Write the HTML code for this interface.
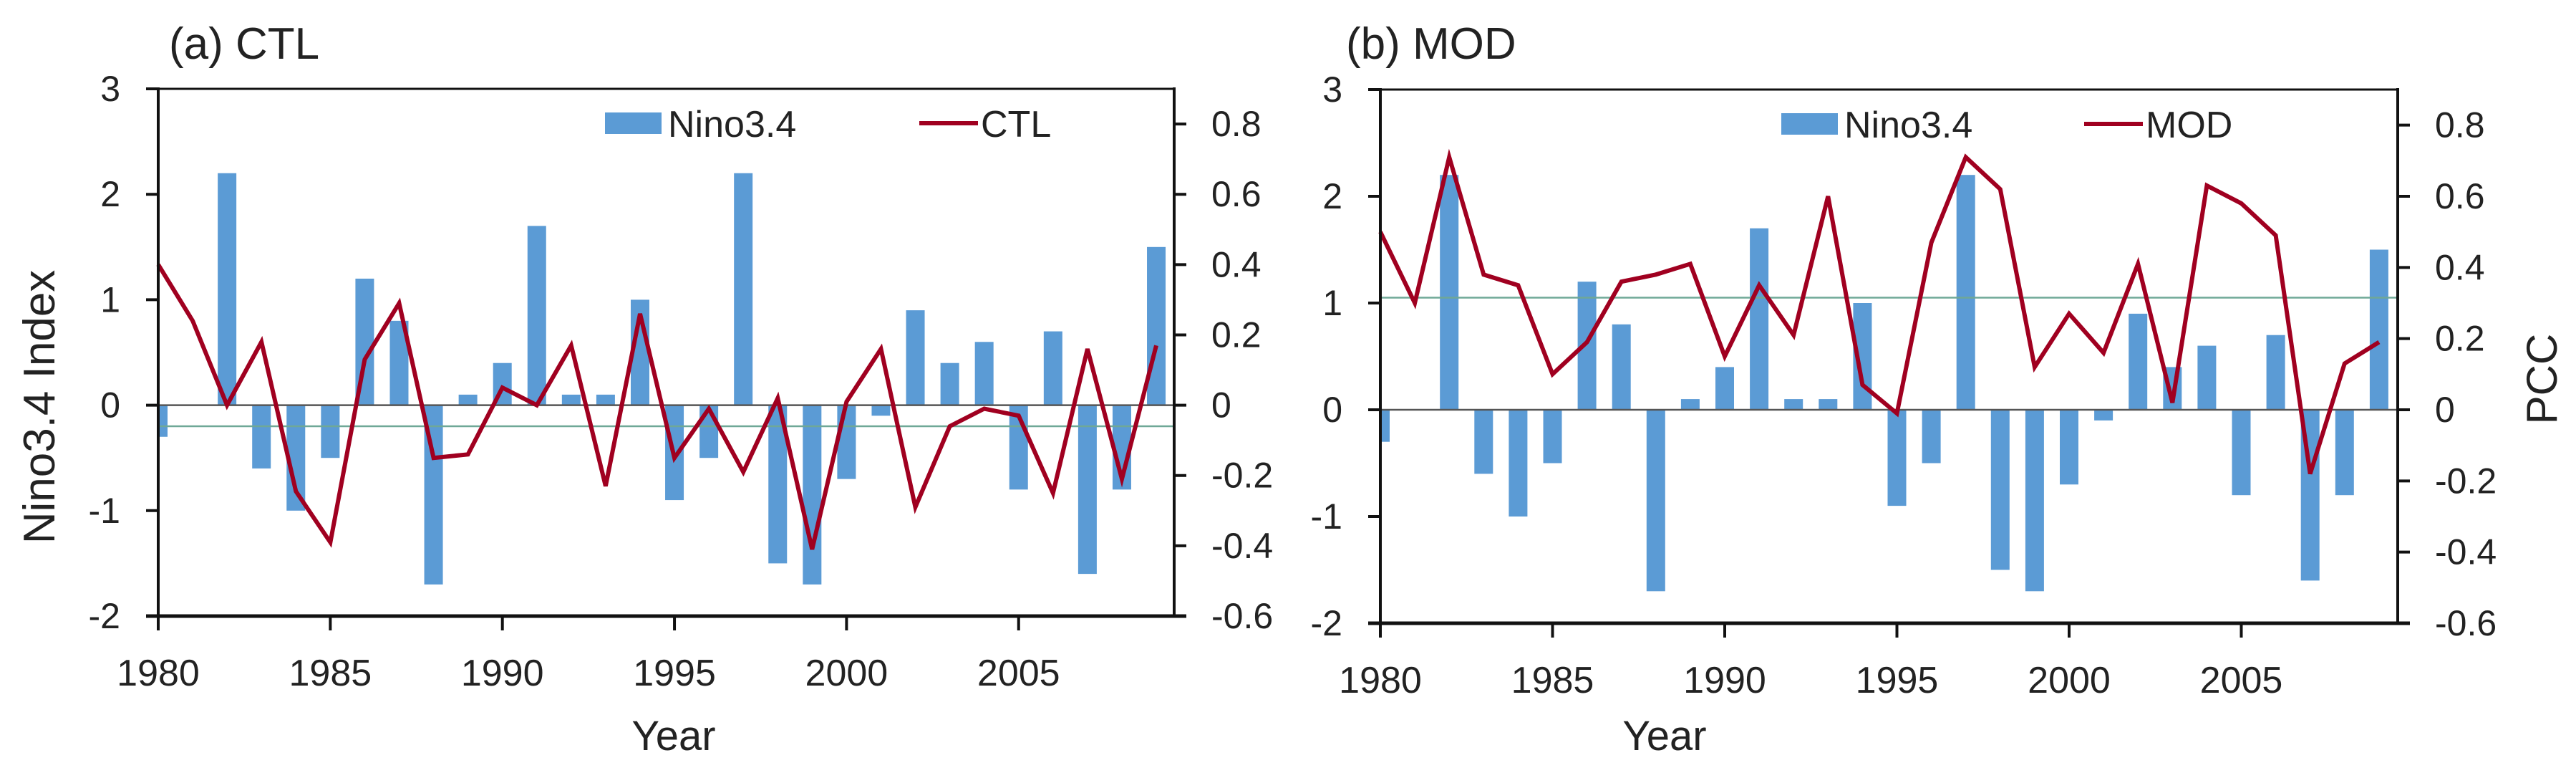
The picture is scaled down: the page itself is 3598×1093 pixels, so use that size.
<!DOCTYPE html>
<html><head><meta charset="utf-8">
<style>
html,body{margin:0;padding:0;background:#fff;}
svg{display:block;font-family:"Liberation Sans",sans-serif;}
</style></head>
<body>
<svg id="chart" width="3598" height="1093" viewBox="0 0 3598 1093" xmlns="http://www.w3.org/2000/svg"></svg>
<script>
const years = [1980,1981,1982,1983,1984,1985,1986,1987,1988,1989,1990,1991,1992,1993,1994,1995,1996,1997,1998,1999,2000,2001,2002,2003,2004,2005,2006,2007,2008,2009];
const nino34 = [-0.3,0,2.2,-0.6,-1.0,-0.5,1.2,0.8,-1.7,0.1,0.4,1.7,0.1,0.1,1.0,-0.9,-0.5,2.2,-1.5,-1.7,-0.7,-0.1,0.9,0.4,0.6,-0.8,0.7,-1.6,-0.8,1.5];
const ctlPcc = [0.40,0.24,0.0,0.18,-0.245,-0.39,0.13,0.29,-0.15,-0.14,0.05,0.0,0.17,-0.23,0.26,-0.15,-0.01,-0.19,0.02,-0.41,0.01,0.16,-0.29,-0.06,-0.01,-0.03,-0.25,0.16,-0.21,0.17];
const modPcc = [0.50,0.30,0.71,0.38,0.35,0.10,0.19,0.36,0.38,0.41,0.15,0.35,0.21,0.60,0.07,-0.01,0.47,0.71,0.62,0.12,0.27,0.16,0.41,0.02,0.63,0.58,0.49,-0.18,0.13,0.19];
const ninoTicks = [3,2,1,0,-1,-2];
const pccTicks = [0.8,0.6,0.4,0.2,0,-0.2,-0.4,-0.6];
const yearTicks = [1980,1985,1990,1995,2000,2005];
const ctlThreshold = -0.06;
const modThreshold = 0.315;

const NS = "http://www.w3.org/2000/svg";
const svg = document.getElementById('chart');
function mk(tag, attrs, parent, text){
  const e = document.createElementNS(NS, tag);
  for (const k in attrs) e.setAttribute(k, attrs[k]);
  if (text !== undefined) e.textContent = text;
  (parent || svg).appendChild(e);
  return e;
}

function panel(cfg){
  const g = mk('g', {});
  
  
  const L = cfg.left, R = cfg.right, T = cfg.top, B = cfg.bottom;
  const step = cfg.step;
  const xs = y => L + (y - years[0]) * step;
  const yN = v => T + (3 - v) / 5 * (B - T);
  const yP = v => T + (0.9 - v) / 1.5 * (B - T);

  const top = mk('line', {x1:L, y1:T, x2:R, y2:T, stroke:'#111', 'stroke-width':3}, g);
  
  

  nino34.forEach((v, i) => {
    const cx = xs(years[i]);
    let x0 = cx - 13, x1 = cx + 13;
    if (x0 < L) x0 = L;
    const y0 = yN(0), y1 = yN(v);
    const r = mk('rect', {x:x0, y:Math.min(y0,y1), width:x1-x0, height:Math.abs(y1-y0), fill:'#5B9BD5'}, g);
    
    
  });

  const z = mk('line', {x1:L, y1:yN(0), x2:R, y2:yN(0), stroke:'#555', 'stroke-width':2.5}, g);
  
  
  const th = mk('line', {x1:L, y1:yP(cfg.threshold), x2:R, y2:yP(cfg.threshold), stroke:'#6fa897', 'stroke-width':2.5}, g);
  
  

  const pts = cfg.series.map((v, i) => xs(years[i]).toFixed(1) + ',' + yP(v).toFixed(1)).join(' ');
  const pl = mk('polyline', {points:pts, fill:'none', stroke:'#A00020', 'stroke-width':6, 'stroke-linejoin':'miter'}, g);
  
  

  const ax = mk('line', {x1:L, y1:T-2, x2:L, y2:B+20, stroke:'#111', 'stroke-width':4}, g);
  
  
  const axr = mk('line', {x1:R, y1:T-2, x2:R, y2:B+2, stroke:'#111', 'stroke-width':4}, g);
  
  
  const axb = mk('line', {x1:L-17, y1:B, x2:R+17, y2:B, stroke:'#111', 'stroke-width':5}, g);
  
  

  ninoTicks.forEach(t => {
    const y = yN(t);
    const tk = mk('line', {x1:L-17, y1:y, x2:L, y2:y, stroke:'#111', 'stroke-width':4}, g);
    
    
    const lb = mk('text', {x:L-53, y:y+17, 'text-anchor':'end', 'font-size':50, fill:'#222'}, g, String(t));
    
    
  });
  pccTicks.forEach(t => {
    const y = yP(t);
    const tk = mk('line', {x1:R, y1:y, x2:R+17, y2:y, stroke:'#111', 'stroke-width':4}, g);
    
    
    const lb = mk('text', {x:R+52, y:y+17, 'font-size':50, fill:'#222'}, g, String(t));
    
    
  });
  yearTicks.forEach(t => {
    const x = xs(t);
    const tk = mk('line', {x1:x, y1:B, x2:x, y2:B+20, stroke:'#111', 'stroke-width':4}, g);
    
    
    const lb = mk('text', {x:x, y:B+97, 'text-anchor':'middle', 'font-size':52, fill:'#222'}, g, String(t));
    
    
  });

  const yt = mk('text', {x:cfg.yearX, y:1047, 'text-anchor':'middle', 'font-size':58, fill:'#222'}, g, 'Year');
  
  

  const tt = mk('text', {x:cfg.titleX, y:82, 'font-size':62, fill:'#222'}, g, cfg.title);
  
  

  const lg = mk('g', {}, g);
  
  
  const lb1 = mk('rect', {x:cfg.legX, y:T+33, width:79, height:30, fill:'#5B9BD5'}, lg);
  
  
  const lt1 = mk('text', {x:cfg.legX+88, y:T+67, 'font-size':52, fill:'#222'}, lg, 'Nino3.4');
  
  
  const ll = mk('line', {x1:cfg.leg2X, y1:T+48, x2:cfg.leg2X+82, y2:T+48, stroke:'#A00020', 'stroke-width':6}, lg);
  
  
  const lt2 = mk('text', {x:cfg.leg2X+86, y:T+67, 'font-size':52, fill:'#222'}, lg, cfg.seriesName);
  
  
}

panel({name:'panel-a-ctl', left:221, right:1640, top:124, bottom:860, step:48.07, series:ctlPcc, seriesName:'CTL', title:'(a) CTL', titleX:236, threshold:ctlThreshold, legX:845, leg2X:1284, yearX:941});
panel({name:'panel-b-mod', left:1928, right:3349, top:125, bottom:870, step:48.1, series:modPcc, seriesName:'MOD', title:'(b) MOD', titleX:1880, threshold:modThreshold, legX:2488, leg2X:2911, yearX:2325});

const yl = mk('text', {x:0, y:0, 'text-anchor':'middle', 'font-size':62, fill:'#222', transform:'translate(76,568) rotate(-90)'}, svg, 'Nino3.4 Index');


const pr = mk('text', {x:0, y:0, 'text-anchor':'middle', 'font-size':60, fill:'#222', transform:'translate(3571,529) rotate(-90)'}, svg, 'PCC');


</script>
</body></html>
